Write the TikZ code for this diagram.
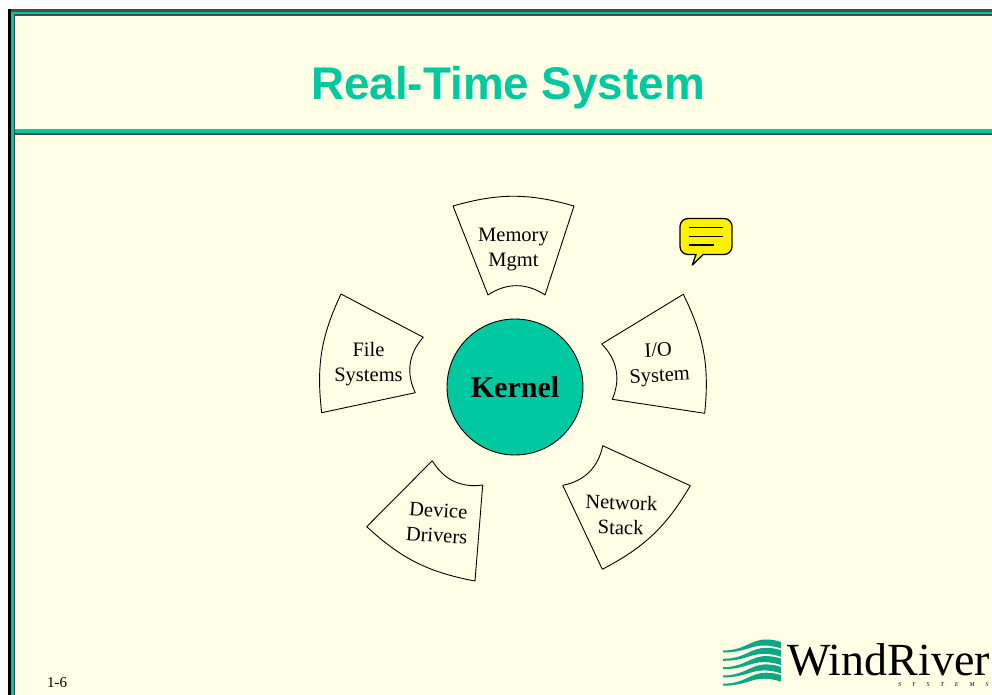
\documentclass[tikz,border=0pt]{standalone}
\usepackage{fontspec}
\setmainfont{Liberation Serif}
\newfontfamily\titlefont{Liberation Sans}
\definecolor{fondo}{HTML}{FFFFE6}
\definecolor{verde}{HTML}{00C8A0}
\definecolor{verdelogo}{HTML}{10A585}
\definecolor{gris}{HTML}{4A4A4A}
\newcommand{\hueco}{\hspace{11pt}}
\tikzset{
  sector/.style={draw=black, line width=0.9pt, line join=round},
  fuera/.style={bend left=16},
  dentro/.style={bend right=34},
  etiqueta/.style={align=center, inner sep=0pt, font=\fontsize{20.5}{25}\selectfont},
  logoband/.style={fill=verdelogo, draw=none},
}
\begin{document}
\begin{tikzpicture}[x=1pt, y=-1pt]
  \useasboundingbox (0,0) rectangle (992,695);

  % Marco
  \fill[white] (0,0) rectangle (992,695);
  \fill[gris] (8,9) rectangle (992,695);
  \fill[black] (8,9) rectangle (11,695);
  \fill[verde] (11,12) rectangle (992,695);
  \fill[gris] (14,14) rectangle (992,695);
  \fill[fondo] (15,16) rectangle (992,695);

  % Raya del titulo
  \fill[verde] (15,129) rectangle (992,133);
  \fill[gris] (15,133) rectangle (992,135);

  % Titulo
  \node[text=verde, inner sep=0pt, font=\titlefont\bfseries\fontsize{45.8}{50}\selectfont] (titulo) at (508,88) {Real-Time System};

  % Nucleo
  \node[circle, draw=black, line width=0.9pt, fill=verde, minimum size=136pt, inner sep=0pt, font=\bfseries\fontsize{30}{34}\selectfont] (kernel) at (515,387) {Kernel};

  % Sectores
  \draw[sector] (453,206) to[fuera] (574,206) -- (545,295) to[dentro] (488,295) -- cycle;
  \draw[sector] (683.3,294.3) to[fuera] (704.7,413.3) -- (612.3,399.3) to[dentro] (601.7,344) -- cycle;
  \draw[sector] (690.3,485.7) to[fuera] (602.3,569.3) -- (562.7,485.3) to[dentro] (602.7,445.7) -- cycle;
  \draw[sector] (475,581) to[fuera] (366.7,526.7) -- (432.3,460.7) to[dentro] (482.7,485) -- cycle;
  \draw[sector] (321.7,412.7) to[fuera] (341,294) -- (423.3,337.3) to[dentro] (415.3,392.7) -- cycle;

  % Etiquetas
  \node[etiqueta] (memoria) at (513.5,249.5) {Memory\\Mgmt};
  \node[etiqueta, rotate=3] (entrada) at (659,364.5) {I/O\\System};
  \node[etiqueta, rotate=-1.5] (red) at (621,515) {Network\\Stack};
  \node[etiqueta, rotate=-4] (drivers) at (437.5,523) {Device\\Drivers};
  \node[etiqueta] (archivos) at (368.5,364.5) {File\\Systems};

  % Globo
  \draw[fill=yellow, line width=1.3pt, line join=round] (688,218.5) -- (724,218.5) arc[start angle=-90, end angle=0, radius=8] -- (732,246.5) arc[start angle=0, end angle=90, radius=8] -- (703.3,254.5) -- (692.3,265) -- (696,254.5) -- (688,254.5) arc[start angle=90, end angle=180, radius=8] -- (680,226.5) arc[start angle=180, end angle=270, radius=8] -- cycle;
  \draw[line width=1.3pt] (689,227.7) -- (723,227.7);
  \draw[line width=1.3pt] (689,236.7) -- (723,236.7);
  \draw[line width=1.3pt] (689,245) -- (714,245);

  % Logo
  \foreach \k in {0,...,4} {
    \fill[logoband, yshift=-8.3*\k pt] (723,650.5) .. controls (745,650.5) and (750,639.5) .. (766,639.5) .. controls (772,639.5) and (777,640.5) .. (781,642) -- (781,648.5) .. controls (775,646.5) and (770,645.5) .. (764,645.5) .. controls (750,645.5) and (745,652.5) .. (723,652.5) -- cycle;
  }
  \node[anchor=base west, inner sep=0pt, font=\fontsize{46}{50}\selectfont] (marca) at (787,675.5) {WindRiver};
  \node[anchor=base west, inner sep=0pt, font=\itshape\fontsize{6}{7}\selectfont] (sistemas) at (898,686) {S\hueco Y\hueco S\hueco T\hueco E\hueco M\hueco S};

  % Pagina
  \node[anchor=base west, inner sep=0pt, font=\fontsize{15}{17}\selectfont] (pagina) at (47,687) {1-6};
\end{tikzpicture}
\end{document}
